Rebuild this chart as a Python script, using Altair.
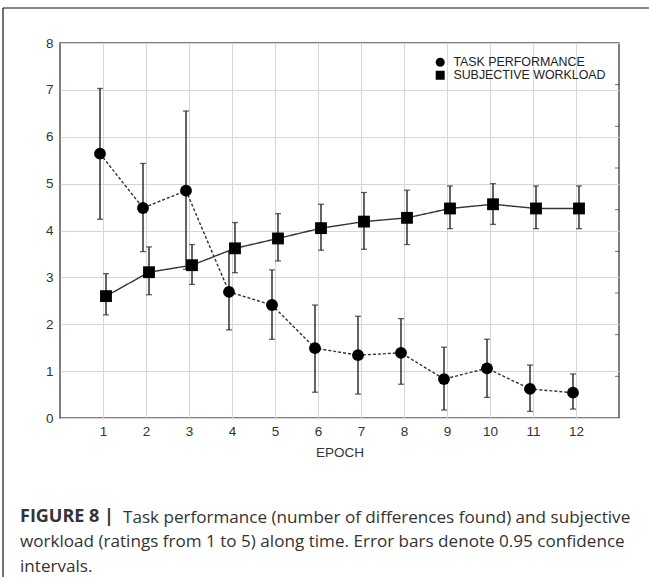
import altair as alt
import pandas as pd

# ---- data ----
epochs = [1, 2, 3, 4, 5, 6, 7, 8, 9, 10, 11, 12]
task_mean = [5.64, 4.48, 4.85, 2.69, 2.41, 1.49, 1.34, 1.39, 0.83, 1.06, 0.62, 0.54]
task_low = [4.24, 3.55, 3.17, 1.88, 1.68, 0.55, 0.51, 0.72, 0.17, 0.44, 0.14, 0.19]
task_high = [7.03, 5.43, 6.55, 3.55, 3.16, 2.41, 2.17, 2.12, 1.51, 1.68, 1.13, 0.94]
work_mean = [2.60, 3.11, 3.26, 3.62, 3.83, 4.05, 4.19, 4.27, 4.47, 4.56, 4.47, 4.47]
work_low = [2.20, 2.63, 2.85, 3.10, 3.35, 3.58, 3.60, 3.70, 4.04, 4.13, 4.04, 4.04]
work_high = [3.08, 3.65, 3.70, 4.17, 4.36, 4.56, 4.81, 4.86, 4.95, 5.00, 4.95, 4.95]
series_names = ["TASK PERFORMANCE", "SUBJECTIVE WORKLOAD"]
y_ticks = [0, 1, 2, 3, 4, 5, 6, 7, 8]
right_ticks = [1, 2, 3, 4, 5, 6, 7, 8]
x_title = "EPOCH"
caption_bold = "FIGURE 8 |"
caption_lines = [
    "Task performance (number of differences found) and subjective",
    "workload (ratings from 1 to 5) along time. Error bars denote 0.95 confidence",
    "intervals.",
]

FONT = "Liberation Sans"
CAP_FONT = "Open Sans"
CAP_SIZE = 17.1
INK = "#222222"
W, H = 559, 375

task_df = pd.DataFrame({"epoch": epochs, "mean": task_mean, "low": task_low,
                        "high": task_high, "series": series_names[0]})
work_df = pd.DataFrame({"epoch": epochs, "mean": work_mean, "low": work_low,
                        "high": work_high, "series": series_names[1]})

x_enc = alt.X("epoch:Q", scale=alt.Scale(domain=[0, 13], nice=False),
              axis=alt.Axis(values=epochs, grid=True, title=x_title, ticks=False,
                            domain=False, labelPadding=6, titlePadding=8,
                            format="d"))
y_scale = alt.Scale(domain=[0, 8], nice=False)
y_axis = alt.Axis(values=y_ticks, grid=True, title=None, ticks=False, domain=False,
                  labelPadding=7, format="d")
shape_scale = alt.Scale(domain=series_names, range=["circle", "square"])


def series_layers(df, off, dash):
    base = alt.Chart(df)
    line = base.mark_line(color="#333333", strokeWidth=1.4, xOffset=off,
                          strokeDash=dash).encode(
        x=x_enc, y=alt.Y("mean:Q", scale=y_scale, axis=y_axis))
    bars = base.mark_rule(color=INK, strokeWidth=1.4, xOffset=off).encode(
        x="epoch:Q", y=alt.Y("low:Q", scale=y_scale), y2="high:Q")
    caps = base.transform_fold(["low", "high"], as_=["end", "val"]).mark_tick(
        orient="horizontal", size=6, thickness=1.3, color=INK, xOffset=off).encode(
        x="epoch:Q", y=alt.Y("val:Q", scale=y_scale))
    pts = base.mark_point(filled=True, opacity=1, color="black", size=140,
                          xOffset=off).encode(
        x="epoch:Q", y=alt.Y("mean:Q", scale=y_scale),
        shape=alt.Shape("series:N", scale=shape_scale,
                        legend=alt.Legend(title=None, orient="none", legendX=374,
                                          legendY=14, labelFont=FONT,
                                          labelFontSize=12.4, labelColor="#222",
                                          symbolSize=80, symbolFillColor="black",
                                          symbolStrokeColor="black",
                                          rowPadding=0, clipHeight=10.5,
                                          labelOffset=7)))
    return [line, bars, caps, pts]


main = alt.layer(*series_layers(task_df, -3, [3, 2]),
                 *series_layers(work_df, 3, [1, 0]))

rt_df = pd.DataFrame({"v": right_ticks})
right = alt.Chart(rt_df).mark_tick(orient="horizontal", size=4, thickness=1,
                                   color="#333").encode(
    x=alt.value(W - 2),
    y=alt.Y("v:Q", scale=alt.Scale(domain=[0, 9], nice=False), axis=None))

one = pd.DataFrame({"k": [0]})
frame_left = alt.Chart(one).mark_rule(color="#111", strokeWidth=1.2).encode(
    x=alt.value(-57), y=alt.value(-35), y2=alt.value(577 - 43))
frame_top = alt.Chart(one).mark_rule(color="#111", strokeWidth=1.2).encode(
    x=alt.value(-57), x2=alt.value(649 - 60), y=alt.value(-35))

cap_bold = alt.Chart(pd.DataFrame({"t": [caption_bold]})).mark_text(
    align="left", baseline="middle", font=CAP_FONT, fontSize=18,
    fontWeight="bold", color="#333").encode(
    x=alt.value(-40), y=alt.value(474), text="t:N")
cap_text = []
for i, line_txt in enumerate(caption_lines):
    cap_text.append(alt.Chart(pd.DataFrame({"t": [line_txt]})).mark_text(
        align="left", baseline="middle", font=CAP_FONT, fontSize=CAP_SIZE,
        color="#333").encode(x=alt.value(63 if i == 0 else -40),
                             y=alt.value(474.5 + 24.5 * i), text="t:N"))

chart = alt.layer(main, right, frame_left, frame_top, cap_bold, *cap_text).resolve_scale(
    y="independent").properties(
    width=W, height=H,
    autosize=alt.AutoSizeParams(type="none"),
    padding={"left": 60, "top": 43, "right": 30, "bottom": 159},
    background="white",
).configure_view(stroke="#555555", strokeWidth=1.5).configure_axis(
    labelFont=FONT, labelFontSize=13.5, labelColor="#333", titleFont=FONT,
    titleFontSize=13.5, titleColor="#333", titleFontWeight="normal",
    gridColor="#d6d6d6", gridWidth=1)

chart.save("out.html", embed_options={"renderer": "svg", "actions": False})
